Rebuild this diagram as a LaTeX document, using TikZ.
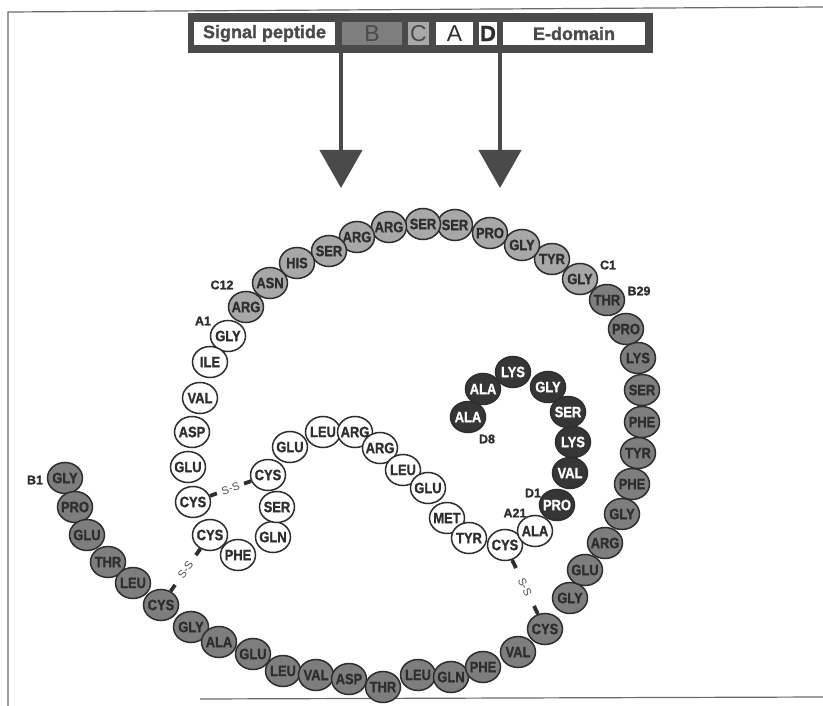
\documentclass[tikz,border=0pt]{standalone}
\usepackage{fontspec}
\setmainfont{Liberation Sans}
\newfontfamily\resfont[FakeStretch=0.86, BoldFeatures={FakeBold=1.2}]{Liberation Sans}
\newfontfamily\hdrfont[BoldFeatures={FakeBold=1.4}]{Liberation Sans}
\usetikzlibrary{shapes.geometric,arrows.meta,calc}
\definecolor{ink}{HTML}{2E2E2E}
\definecolor{bgray}{HTML}{7E7E7E}
\definecolor{cgray}{HTML}{A8A8A8}
\definecolor{dfill}{HTML}{363636}
\definecolor{hdrframe}{HTML}{4A4A4A}
\definecolor{framel}{HTML}{6A6A6A}
\tikzset{
  res/.style={ellipse, minimum width=35pt, minimum height=31pt, inner sep=0pt,
    line width=1.5pt, draw=ink, text=ink,
    font=\resfont\bfseries\fontsize{15}{15}\selectfont},
  bres/.style={res, fill=bgray},
  cres/.style={res, fill=cgray},
  ares/.style={res, fill=white},
  dres/.style={res, fill=dfill, text=white},
  lab/.style={text=ink, font=\hdrfont\bfseries\fontsize{12.5}{12}\selectfont},
  bondbar/.style={line width=3.8pt, draw=ink},
  sstext/.style={text=ink!85, inner sep=0pt, font=\fontsize{11}{11}\selectfont},
  seg/.style={inner sep=0pt, minimum height=23pt, anchor=center},
  bigarrow/.style={draw=hdrframe, line width=4.5pt,
    -{Triangle[width=42pt,length=38pt]}},
}
\begin{document}
\begin{tikzpicture}[x=1pt,y=-1pt]
\useasboundingbox (0,0) rectangle (823,706);
% outer frame
\draw[framel, line width=1.2pt] (8,706) -- (8,12) -- (823,7);
\draw[framel, line width=1.2pt] (200,699) -- (823,697);
% header bar
\node[fill=hdrframe, minimum width=465pt, minimum height=40pt, inner sep=0pt, anchor=north west] (hdr) at (188,13) {};
\node[seg, fill=white, minimum width=141pt, text=hdrframe, font=\hdrfont\bfseries\fontsize{18}{18}\selectfont] (segS) at (264.5,33.5) {Signal peptide};
\node[seg, fill=bgray, minimum width=60pt, text=hdrframe, font=\fontsize{23}{23}\selectfont] (segB) at (372,33.5) {B};
\node[seg, fill=cgray, minimum width=21pt, text=hdrframe, font=\fontsize{23}{23}\selectfont] (segC) at (418.5,33.5) {C};
\node[seg, fill=white, minimum width=37pt, text=ink, font=\fontsize{23}{23}\selectfont] (segA) at (454.5,33.5) {A};
\node[seg, fill=white, minimum width=18pt, text=ink, font=\hdrfont\bfseries\fontsize{22}{22}\selectfont] (segD) at (488,33.5) {D};
\node[seg, fill=white, minimum width=142pt, text=hdrframe, font=\hdrfont\bfseries\fontsize{18}{18}\selectfont] (segE) at (574,33.5) {E-domain};
% arrows
\coordinate (tip1) at (341,188);
\coordinate (tip2) at (500,188);
\draw[bigarrow] (tip1 |- hdr.south) -- (tip1);
\draw[bigarrow] (tip2 |- hdr.south) -- (tip2);
% B chain
\foreach \x/\y/\t [count=\i] in {65/478/GLY, 75/507/PRO, 87/535/GLU, 108/562/THR, 133/583/LEU, 161/605/CYS, 191/627/GLY, 219/642/ALA, 253/654/GLU, 283/671/LEU, 316/675/VAL, 349/679/ASP, 383/687/THR, 418/675/LEU, 451/677/GLN, 483/667/PHE, 518/652/VAL, 545/629/CYS, 570/598/GLY, 585/570/GLU, 605/543/ARG, 622/514/GLY, 632/484/PHE, 638/453/TYR, 642/422/PHE, 642/390/SER, 638/358/LYS, 626/329/PRO, 607/300/THR}
  \node[bres] (b\i) at (\x,\y) {\makebox[0pt]{\t}};
% C chain
\foreach \x/\y/\t [count=\i] in {580/279/GLY, 552/259/TYR, 522/245/GLY, 490/233/PRO, 455/225/SER, 423/224/SER, 389/227/ARG, 357/237/ARG, 329/251/SER, 297/263/HIS, 270/283/ASN, 246/307/ARG}
  \node[cres] (c\i) at (\x,\y) {\makebox[0pt]{\t}};
% A chain
\foreach \x/\y/\t [count=\i] in {228/336/GLY, 210/362/ILE, 200/398/VAL, 192/432/ASP, 188/467/GLU, 193/502/CYS, 210/535/CYS, 238/555/PHE, 273/537/GLN, 277/507/SER, 268/475/CYS, 290/447/GLU, 323/432/LEU, 355/432/ARG, 380/448/ARG, 403/470/LEU, 428/488/GLU, 447/518/MET, 469/538/TYR, 505/545/CYS, 535/531/ALA}
  \node[ares] (a\i) at (\x,\y) {\makebox[0pt]{\t}};
% D chain
\foreach \x/\y/\t [count=\i] in {557/505/PRO, 570/473/VAL, 573/442/LYS, 568/412/SER, 548/387/GLY, 513/372/LYS, 483/389/ALA, 468/417/ALA}
  \node[dres] (d\i) at (\x,\y) {\makebox[0pt]{\t}};
% labels
\node[lab] (lC12) at (222,285) {C12};
\node[lab] (lA1) at (203,321) {A1};
\node[lab] (lC1) at (608,265) {C1};
\node[lab] (lB29) at (639,291) {B29};
\node[lab] (lD8) at (487,439) {D8};
\node[lab] (lD1) at (533,493) {D1};
\node[lab] (lA21) at (515,513) {A21};
\node[lab] (lB1) at (35,480) {B1};
% disulfide bonds
\path (a6) -- (a11) coordinate[pos=0] (s1a) coordinate[pos=0.17] (s1b)
  coordinate[pos=0.83] (s1c) coordinate[pos=1] (s1d) node[pos=0.5, sloped, sstext] {S-S};
\draw[bondbar] (s1a) -- (s1b); \draw[bondbar] (s1c) -- (s1d);
\path (b6) -- (a7) coordinate[pos=0] (s2a) coordinate[pos=0.15] (s2b)
  coordinate[pos=0.85] (s2c) coordinate[pos=1] (s2d) node[pos=0.5, sloped, sstext] {S-S};
\draw[bondbar] (s2a) -- (s2b); \draw[bondbar] (s2c) -- (s2d);
\path (a20) -- (b18) coordinate[pos=0] (s3a) coordinate[pos=0.15] (s3b)
  coordinate[pos=0.85] (s3c) coordinate[pos=1] (s3d) node[pos=0.5, sloped, sstext] {S-S};
\draw[bondbar] (s3a) -- (s3b); \draw[bondbar] (s3c) -- (s3d);
\end{tikzpicture}
\end{document}
